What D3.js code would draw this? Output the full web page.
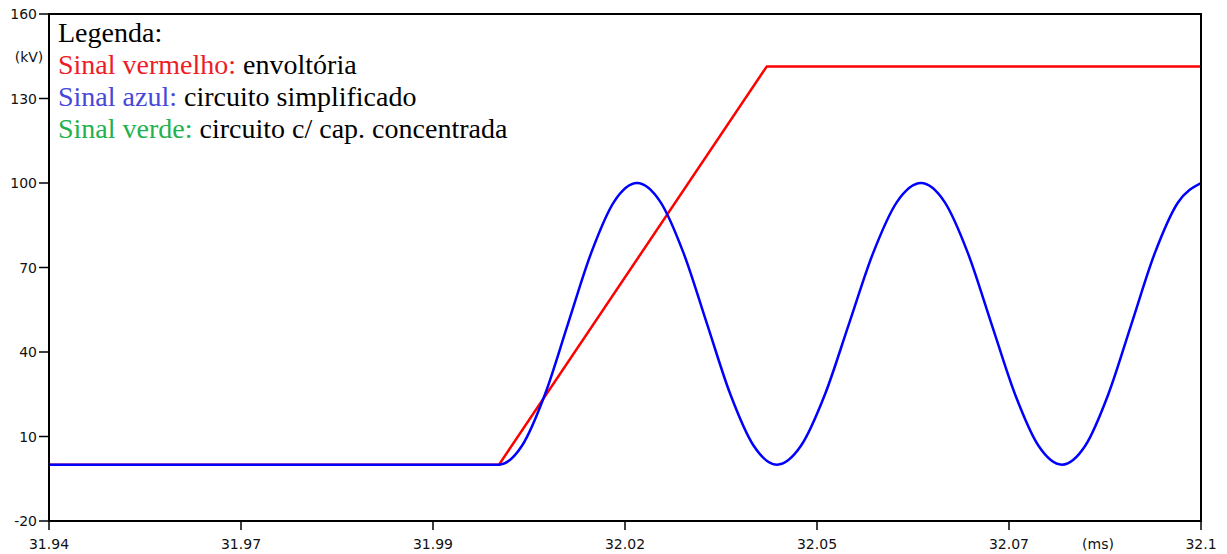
<!DOCTYPE html>
<html>
<head>
<meta charset="utf-8">
<script src="https://cdn.jsdelivr.net/npm/d3@7"></script>
<style>
  body { margin: 0; background: #fff; }
  svg { display: block; }
  .tick-label { font-family: "DejaVu Sans", Verdana, sans-serif; font-size: 14px; fill: #111; }
  .legend { font-family: "Liberation Serif", "Times New Roman", serif; font-size: 28px; }
</style>
</head>
<body>
<svg id="chart" width="1227" height="554"></svg>
<script>
// ----- datos -----
// eje x (ms)
let xTicks = [31.94, 31.966667, 31.993333, 32.02, 32.046667, 32.073333, 32.1];
let xTickLabels = ['31.94', '31.97', '31.99', '32.02', '32.05', '32.07', '32.1'];
// eje y (kV)
let yTicks = [-20, 10, 40, 70, 100, 130, 160];

// senal roja: envoltoria
let redTime = [31.94, 32.0025, 32.0397, 32.1];
let redKV = [0, 0, 141.4, 141.4];

// senal azul: circuito simplificado
let blueTime = [
  31.94, 32.0025,
  32.00569, 32.00889, 32.01208, 32.01528, 32.01847, 32.02167,
  32.02491, 32.02815, 32.03139, 32.03463, 32.03787, 32.04111,
  32.04444, 32.04778, 32.05111, 32.05444, 32.05778, 32.06111,
  32.06438, 32.06764, 32.0709, 32.07417, 32.07743, 32.08069,
  32.08392, 32.08713, 32.09035, 32.09357, 32.09678, 32.1
];
let blueKV = [
  0, 0,
  6.7, 25, 50, 75, 93.3, 100,
  93.3, 75, 50, 25, 6.7, 0,
  6.7, 25, 50, 75, 93.3, 100,
  93.3, 75, 50, 25, 6.7, 0,
  6.7, 25, 50, 75, 93, 100
];

let legendLines = [
  [{t: 'Legenda:', c: '#000'}],
  [{t: 'Sinal vermelho: ', c: '#ee1c25'}, {t: 'envoltória', c: '#000'}],
  [{t: 'Sinal azul: ', c: '#4848d8'}, {t: 'circuito simplificado', c: '#000'}],
  [{t: 'Sinal verde: ', c: '#22b14c'}, {t: 'circuito c/ cap. concentrada', c: '#000'}]
];

// ----- dibujo -----
let svg = d3.select('#chart');
let plotLeft = 49, plotRight = 1201, plotTop = 14, plotBottom = 521;

let x = d3.scaleLinear().domain([31.94, 32.1]).range([plotLeft, plotRight]);
let y = d3.scaleLinear().domain([-20, 160]).range([plotBottom, plotTop]);

svg.append('defs').append('clipPath').attr('id', 'plot')
   .append('rect').attr('x', plotLeft).attr('y', plotTop)
   .attr('width', plotRight - plotLeft).attr('height', plotBottom - plotTop);

// ticks y
let yAxis = svg.append('g');
yAxis.selectAll('line').data(yTicks).enter().append('line')
     .attr('x1', plotLeft - 10).attr('x2', plotLeft)
     .attr('y1', d => y(d)).attr('y2', d => y(d))
     .attr('stroke', '#000').attr('stroke-width', 1.5);
yAxis.selectAll('text').data(yTicks).enter().append('text')
     .attr('class', 'tick-label')
     .attr('x', plotLeft - 12).attr('y', d => y(d) + 5)
     .attr('text-anchor', 'end')
     .text(d => d);

// ticks x
let xAxis = svg.append('g');
xAxis.selectAll('line').data(xTicks).enter().append('line')
     .attr('x1', d => x(d)).attr('x2', d => x(d))
     .attr('y1', plotBottom).attr('y2', plotBottom + 9)
     .attr('stroke', '#000').attr('stroke-width', 1.5);
xAxis.selectAll('text').data(xTicks).enter().append('text')
     .attr('class', 'tick-label')
     .attr('x', d => x(d)).attr('y', 549)
     .attr('text-anchor', 'middle')
     .text((d, i) => xTickLabels[i]);

svg.append('text').attr('class', 'tick-label')
   .attr('x', 29).attr('y', 62).attr('text-anchor', 'middle').text('(kV)');
svg.append('text').attr('class', 'tick-label')
   .attr('x', 1098).attr('y', 549).attr('text-anchor', 'middle').text('(ms)');

// lineas
let line = d3.line()
  .x(d => x(d[0]))
  .y(d => y(d[1]));

let redData = redTime.map((t, i) => [t, redKV[i]]);
let blueData = blueTime.map((t, i) => [t, blueKV[i]]);

svg.append('path')
   .attr('d', line(redData))
   .attr('clip-path', 'url(#plot)')
   .attr('fill', 'none').attr('stroke', '#ff0000').attr('stroke-width', 2.5);

svg.append('path')
   .attr('d', line.curve(d3.curveMonotoneX)(blueData))
   .attr('clip-path', 'url(#plot)')
   .attr('fill', 'none').attr('stroke', '#0000ff').attr('stroke-width', 2.5);

// marco
svg.append('rect')
   .attr('x', plotLeft).attr('y', plotTop)
   .attr('width', plotRight - plotLeft).attr('height', plotBottom - plotTop)
   .attr('fill', 'none').attr('stroke', '#000').attr('stroke-width', 2);

// leyenda
let legend = svg.append('g');
legendLines.forEach((parts, i) => {
  let txt = legend.append('text')
    .attr('class', 'legend')
    .attr('x', 58).attr('y', 42 + i * 32);
  parts.forEach(p => {
    txt.append('tspan').attr('fill', p.c).text(p.t);
  });
});
</script>
</body>
</html>
